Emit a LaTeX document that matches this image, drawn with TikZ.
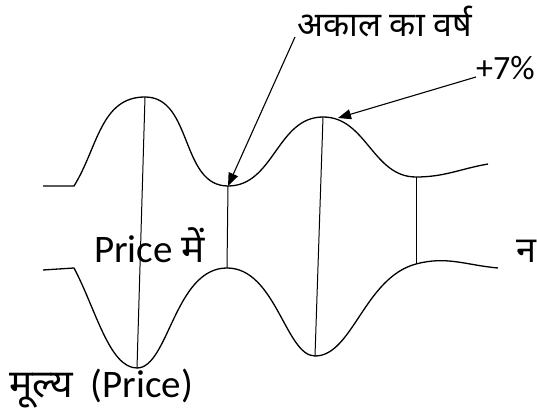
\documentclass[tikz,border=0pt]{standalone}
\usepackage{fontspec}
\setmainfont{Carlito}
\newfontfamily\deva[Script=Devanagari]{Noto Sans}
\usetikzlibrary{arrows.meta}

\begin{document}
\begin{tikzpicture}[x=1pt, y=1pt,
  curve/.style={line width=1.3pt, line join=round},
  vline/.style={line width=1pt},
  arr/.style={-{Triangle[length=13pt, width=10pt]}, line width=1.1pt},
  lbl/.style={inner sep=0pt, anchor=base west, font=\fontsize{39}{42}\selectfont},
  dlbl/.style={inner sep=0pt, anchor=base west, font=\deva\fontsize{34}{38}\selectfont},
]
\useasboundingbox (0,0) rectangle (537,414);

% ---- Upper curve ----
\coordinate (u0)  at (43,228);
\coordinate (u1)  at (74,228);
\coordinate (up1) at (145,317);
\coordinate (ut1) at (228,228);
\coordinate (up2) at (323,297);
\coordinate (ut2) at (416,237);
\coordinate (u9)  at (488,250);

\draw[curve] (u0) -- (u1) to[out=58, in=180] (up1)
  to[out=0, in=180] (ut1) to[out=0, in=180] (up2)
  to[out=0, in=180] (ut2) to[out=0, in=190] (u9);

% ---- Lower curve ----
\coordinate (l0)  at (43,144);
\coordinate (l1)  at (74,146);
\coordinate (lt1) at (137,46);
\coordinate (lp1) at (227,146);
\coordinate (lt2) at (315,58);
\coordinate (l6)  at (416,150);
\coordinate (l9)  at (498,146);

\draw[curve] (l0) -- (l1) to[out=-62, in=180, in looseness=0.6] (lt1)
  to[out=0, in=180, out looseness=0.6] (lp1)
  to[out=0, in=180, in looseness=0.6] (lt2)
  to[out=0, in=195, out looseness=0.7] (l6) to[out=15, in=175] (l9);

% ---- Verticals ----
\draw[vline] (up1) -- (lt1);
\draw[vline] (ut1) -- (lp1);
\draw[vline] (up2) -- (lt2);
\draw[vline] (ut2) -- (l6);

% ---- Labels ----
\node[dlbl] (drought) at (297,377) {अकाल का वर्ष};
\node[lbl, font=\fontsize{34}{38}\selectfont] (pct) at (476,334) {+7\%};
\node[lbl] (pricein) at (94,151) {Price {\deva में}};
\node[lbl] (price) at (9,16) {{\deva मूल्य} \ (Price)};
\node[inner sep=0pt, anchor=base east, font=\deva\fontsize{36}{40}\selectfont]
  (cut) at (537,151) {न};

\coordinate (peak7) at (338,296);

\draw[arr] ([xshift=-2pt]drought.base west) -- (ut1);
\draw[arr] ([yshift=3pt]pct.base west) -- (peak7);

\end{tikzpicture}
\end{document}
